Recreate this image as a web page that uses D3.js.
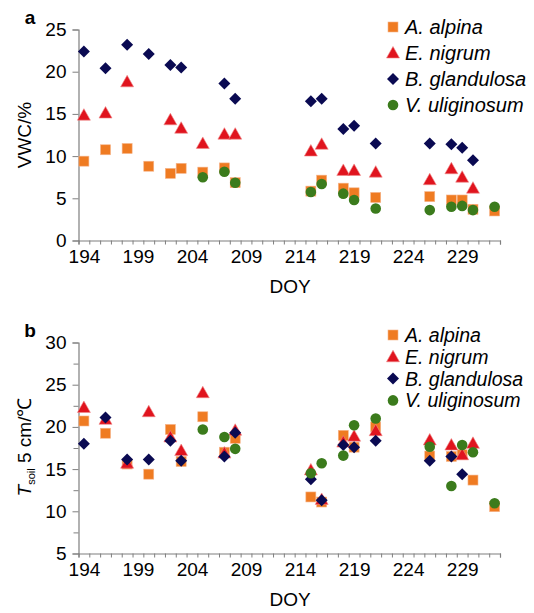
<!DOCTYPE html>
<html lang="en">
<head>
<meta charset="UTF-8">
<title>VWC and Tsoil</title>
<style>
  body { margin: 0; background: #fff; }
  text { font-family: "Liberation Sans", Arial, sans-serif; fill: #000; }
</style>
</head>
<body>
<script src="https://cdn.jsdelivr.net/npm/d3@7"></script>
<script>
// day of year of each sampling
var doy = [194,196,198,200,202,203,205,207,208,215,216,218,219,221,226,228,229,230,232];

// panel a: volumetric water content (%)
var vwcAlpina = [9.4,10.75,10.9,8.8,7.95,8.55,8.1,8.6,6.85,5.85,7.15,6.2,5.65,5.1,5.2,4.8,4.8,3.7,3.5];
var vwcNigrum = [14.85,15.1,18.8,null,14.3,13.3,11.5,12.6,12.6,10.6,11.4,8.3,8.3,8.1,7.2,8.5,7.5,6.2,null];
var vwcGland  = [22.4,20.4,23.2,22.1,20.8,20.5,null,18.6,16.8,16.5,16.8,13.2,13.6,11.5,11.5,11.4,11.0,9.5,null];
var vwcUlig   = [null,null,null,null,null,null,7.5,8.15,6.85,5.75,6.7,5.55,4.8,3.8,3.6,4.0,4.1,3.6,4.0];

// panel b: soil temperature at 5 cm
var tAlpina = [20.7,19.25,15.6,14.4,19.7,15.9,21.2,17.0,18.65,11.7,11.1,19.0,17.6,20.0,16.55,16.5,16.7,13.7,10.55];
var tNigrum = [22.3,20.9,15.7,21.8,18.8,17.2,24.05,16.9,19.6,14.9,11.4,18.2,18.9,19.55,18.45,17.85,16.7,18.05,null];
var tGland  = [18.0,21.1,16.15,16.15,18.35,16.0,null,16.5,19.3,13.8,11.3,17.85,17.6,18.35,16.0,16.5,14.4,null,null];
var tUlig   = [null,null,null,null,null,null,19.7,18.8,17.4,14.5,15.7,16.6,20.2,21.0,17.65,13.0,17.85,17.0,10.95];

var species = ["A. alpina","E. nigrum","B. glandulosa","V. uliginosum"];
var xLabels = [194,199,204,209,214,219,224,229];

var colors = ["#ef7b22","#e0141e","#0a0a52","#3b7b1c"];
var shapes = ["square","triangle","diamond","circle"];

var W = 534, H = 613;
var svg = d3.select("body").append("svg").attr("width", W).attr("height", H);

var x = d3.scaleLinear().domain([193.5, 232.5]).range([78.5, 500]);

function marker(g, shape, color) {
  if (shape === "square") {
    g.append("rect").attr("x",-5).attr("y",-5).attr("width",10).attr("height",10)
      .attr("fill", color).attr("stroke","#f6b48a").attr("stroke-width",0.6);
  } else if (shape === "triangle") {
    g.append("path").attr("d","M0,-6.5L6.5,5L-6.5,5Z").attr("fill", color)
      .attr("stroke","#f08a8a").attr("stroke-width",0.6);
  } else if (shape === "diamond") {
    g.append("path").attr("d","M0,-6L6,0L0,6L-6,0Z").attr("fill", color);
  } else {
    g.append("circle").attr("r",5.3).attr("fill", color);
  }
}

function panel(opts) {
  var y = d3.scaleLinear().domain(opts.ydom).range([opts.y0, opts.y1]);
  var g = svg.append("g");

  // y axis
  var ya = g.append("g").attr("transform","translate(" + x.range()[0] + ",0)")
    .call(d3.axisLeft(y).tickValues(opts.yticks).tickSize(6).tickPadding(6));
  if (opts.yminor) {
    g.append("g").attr("transform","translate(" + x.range()[0] + ",0)")
      .call(d3.axisLeft(y).tickValues(opts.yminor).tickSize(5).tickFormat(""))
      .select(".domain").remove();
  }
  // x axis minor ticks (one per day)
  var xa = g.append("g").attr("transform","translate(0," + opts.y0 + ")")
    .call(d3.axisBottom(x).tickValues(d3.range(193.5, 233, 1)).tickSize(4).tickFormat(""));
  var xl = g.append("g").attr("transform","translate(0," + opts.y0 + ")")
    .call(d3.axisBottom(x).tickValues(xLabels).tickSize(0).tickPadding(9).tickFormat(d3.format("d")));
  xl.select(".domain").remove();

  g.selectAll(".domain").attr("stroke","#7f7f7f").attr("stroke-width",1.2);
  g.selectAll(".tick line").attr("stroke","#7f7f7f");
  g.selectAll(".tick text").attr("font-size","19px").attr("font-family","Liberation Sans, Arial, sans-serif").attr("fill","#000");

  // points, series by series
  opts.series.forEach(function(vals, i) {
    var pts = doy.map(function(d, j){ return {d: d, v: vals[j]}; })
                 .filter(function(p){ return p.v != null; });
    var sg = g.append("g");
    pts.forEach(function(p) {
      var m = sg.append("g").attr("transform","translate(" + x(p.d) + "," + y(p.v) + ")");
      marker(m, shapes[i], colors[i]);
    });
  });

  // legend
  species.forEach(function(s, i) {
    var ly = opts.legY + i * opts.legStep;
    var m = g.append("g").attr("transform","translate(393," + ly + ")");
    marker(m, shapes[i], colors[i]);
    g.append("text").attr("x",405).attr("y",ly).attr("dy","0.36em")
      .attr("font-size", opts.legFont + "px").attr("font-style","italic").text(s);
  });

  // x title
  g.append("text").attr("x",290).attr("y",opts.y0 + 52).attr("text-anchor","middle")
    .attr("font-size","19px").text("DOY");
  // panel letter
  g.append("text").attr("x",30).attr("y",opts.y1 - 6).attr("text-anchor","middle")
    .attr("font-size","19px").attr("font-weight","bold").text(opts.letter);
  return g;
}

var ga = panel({
  ydom: [0, 25], y0: 240.5, y1: 29.5, yticks: d3.range(0, 26, 5), yminor: null,
  series: [vwcAlpina, vwcNigrum, vwcGland, vwcUlig],
  legY: 27, legStep: 26, legFont: 20, letter: "a"
});
ga.append("text").attr("transform","translate(31,135) rotate(-90)").attr("text-anchor","middle")
  .attr("font-size","19px").text("VWC/%");

var gb = panel({
  ydom: [5, 30], y0: 553.5, y1: 342.5, yticks: d3.range(5, 31, 5), yminor: d3.range(7.5, 30, 5),
  series: [tAlpina, tNigrum, tGland, tUlig],
  legY: 335, legStep: 21.8, legFont: 19.5, letter: "b"
});
var tt = gb.append("text").attr("transform","translate(31,447) rotate(-90)").attr("text-anchor","middle")
  .attr("font-size","19px");
tt.append("tspan").attr("font-style","italic").text("T");
tt.append("tspan").attr("font-size","11px").attr("dy","4").text("soil");
tt.append("tspan").attr("dy","-4").text(" 5 cm/\u2103");
</script>
</body>
</html>
